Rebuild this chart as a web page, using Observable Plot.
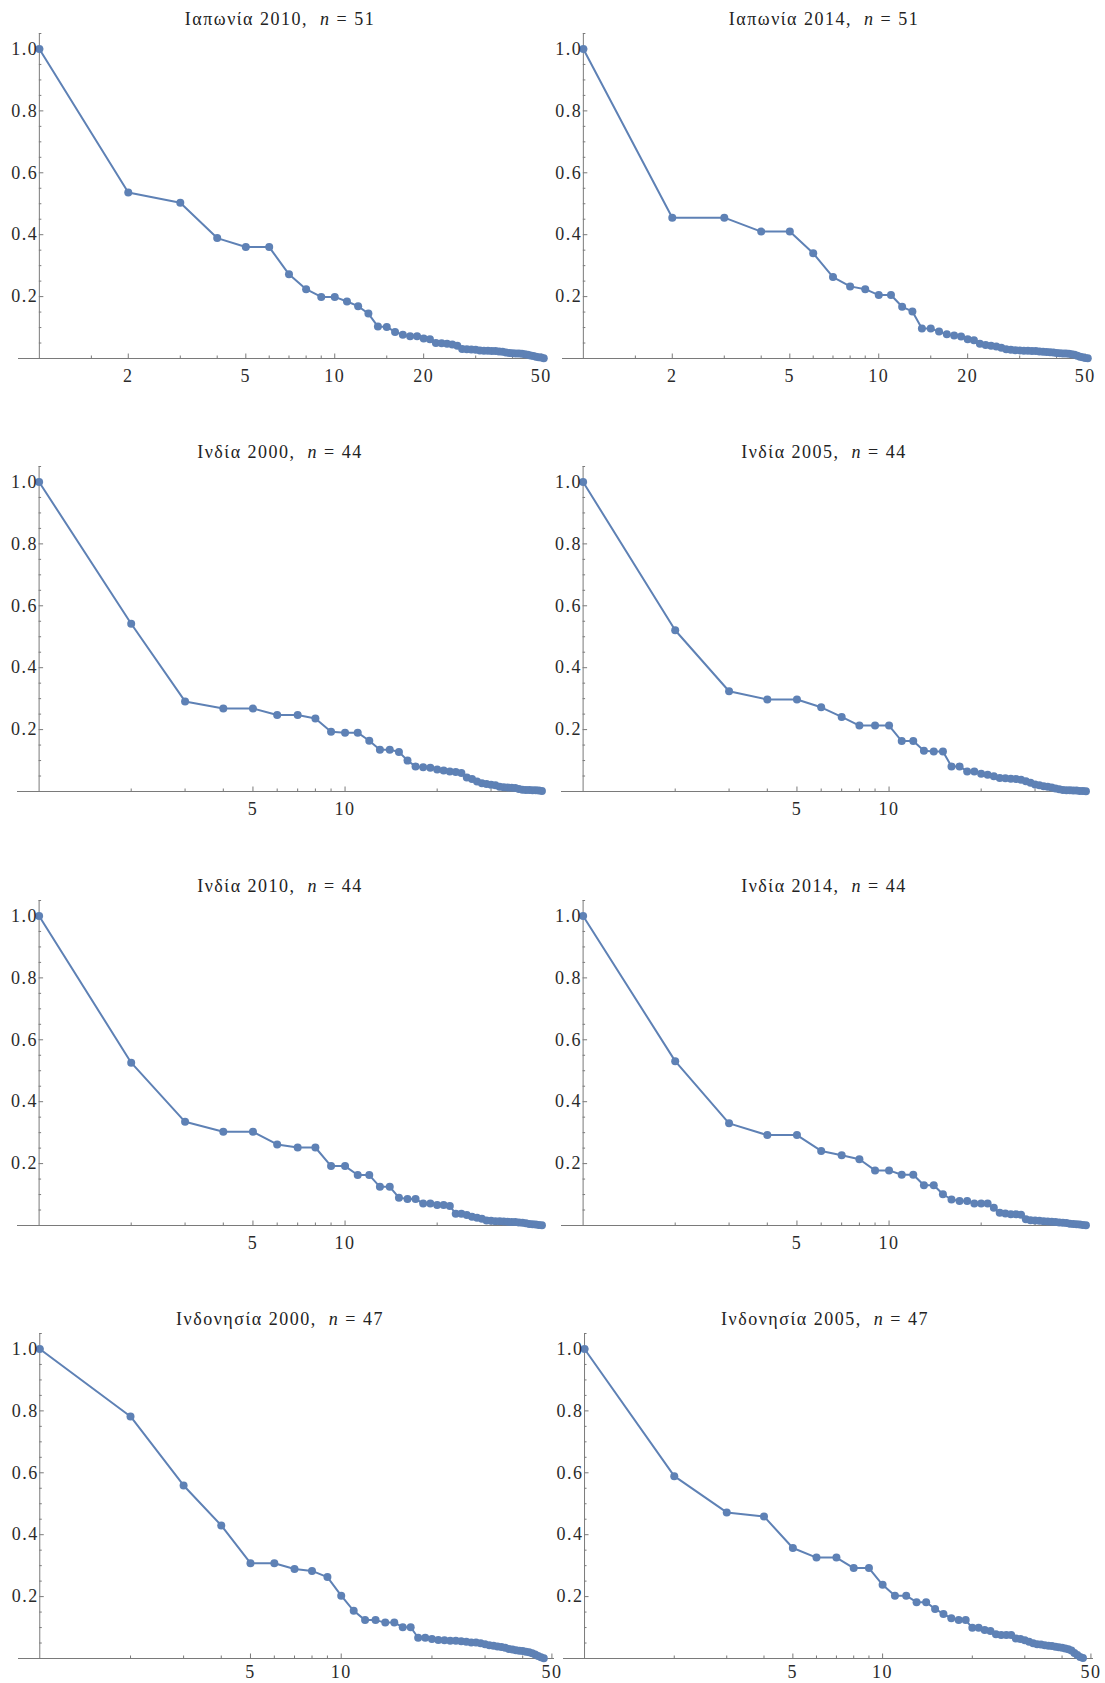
<!DOCTYPE html>
<html><head><meta charset="utf-8">
<script src="https://cdn.jsdelivr.net/npm/d3@7"></script>
<script src="https://cdn.jsdelivr.net/npm/@observablehq/plot@0.6"></script>
<style>
body{margin:0;background:#fff;}
#root{position:relative;width:1105px;height:1683px;overflow:hidden;font-family:"Liberation Serif","Times New Roman",serif;}
.panel{position:absolute;}
.panel text{font-family:"Liberation Serif","Times New Roman",serif;letter-spacing:1.5px;}
.title{position:absolute;width:560px;text-align:center;font-size:18px;line-height:22px;color:#222;white-space:pre;letter-spacing:1.5px;}
</style></head><body><div id="root"></div>
<script>
// ---- data ----
const countries = ["Ιαπωνία","Ιαπωνία","Ινδία","Ινδία","Ινδία","Ινδία","Ινδονησία","Ινδονησία"];
const years = [2010, 2014, 2000, 2005, 2010, 2014, 2000, 2005];

const japan2010 = [1.0,0.536,0.503,0.389,0.360,0.360,0.272,0.224,0.199,0.199,0.184,0.169,0.145,0.103,0.102,0.086,0.077,0.072,0.072,0.065,0.062,0.050,0.049,0.048,0.045,0.041,0.031,0.030,0.029,0.028,0.026,0.025,0.025,0.024,0.024,0.023,0.022,0.019,0.018,0.017,0.016,0.016,0.015,0.014,0.012,0.010,0.008,0.006,0.004,0.003,0.001];
const japan2014 = [1.0,0.455,0.455,0.410,0.410,0.340,0.263,0.233,0.224,0.205,0.205,0.167,0.152,0.097,0.097,0.087,0.078,0.074,0.071,0.062,0.059,0.048,0.044,0.041,0.039,0.035,0.030,0.028,0.027,0.026,0.025,0.025,0.024,0.024,0.023,0.022,0.021,0.020,0.019,0.018,0.017,0.016,0.016,0.015,0.014,0.012,0.009,0.006,0.004,0.002,0.001];
const india2000 = [1.0,0.542,0.291,0.268,0.268,0.247,0.247,0.236,0.193,0.190,0.190,0.164,0.135,0.135,0.128,0.100,0.081,0.078,0.077,0.071,0.068,0.065,0.063,0.060,0.045,0.040,0.032,0.027,0.024,0.022,0.020,0.015,0.014,0.013,0.012,0.011,0.008,0.006,0.005,0.005,0.004,0.004,0.003,0.002];
const india2005 = [1.0,0.521,0.324,0.297,0.297,0.272,0.241,0.213,0.213,0.213,0.163,0.163,0.132,0.129,0.129,0.081,0.081,0.065,0.065,0.057,0.054,0.049,0.044,0.043,0.041,0.040,0.038,0.033,0.028,0.023,0.020,0.017,0.015,0.013,0.010,0.007,0.005,0.004,0.004,0.003,0.003,0.002,0.002,0.001];
const india2010 = [1.0,0.526,0.335,0.303,0.303,0.262,0.252,0.252,0.192,0.192,0.163,0.163,0.125,0.125,0.090,0.086,0.086,0.071,0.071,0.066,0.066,0.063,0.038,0.038,0.034,0.028,0.025,0.022,0.016,0.015,0.014,0.014,0.013,0.012,0.011,0.011,0.010,0.009,0.007,0.005,0.004,0.003,0.002,0.001];
const india2014 = [1.0,0.531,0.330,0.292,0.292,0.241,0.227,0.214,0.178,0.178,0.164,0.164,0.130,0.130,0.101,0.084,0.079,0.079,0.071,0.071,0.071,0.057,0.041,0.039,0.036,0.036,0.035,0.020,0.017,0.016,0.015,0.014,0.013,0.012,0.011,0.010,0.009,0.008,0.006,0.005,0.004,0.003,0.002,0.001];
const indonesia2000 = [1.0,0.782,0.559,0.430,0.308,0.308,0.289,0.283,0.263,0.203,0.154,0.124,0.124,0.116,0.116,0.101,0.101,0.067,0.067,0.063,0.060,0.059,0.057,0.057,0.056,0.054,0.052,0.052,0.049,0.046,0.043,0.041,0.039,0.037,0.035,0.031,0.029,0.027,0.025,0.024,0.022,0.020,0.017,0.013,0.008,0.004,0.001];
const indonesia2005 = [1.0,0.589,0.472,0.459,0.357,0.326,0.326,0.292,0.292,0.238,0.203,0.203,0.182,0.182,0.160,0.144,0.130,0.124,0.124,0.099,0.099,0.092,0.089,0.078,0.076,0.076,0.076,0.065,0.063,0.059,0.054,0.049,0.046,0.045,0.043,0.041,0.040,0.038,0.036,0.035,0.032,0.030,0.026,0.018,0.011,0.005,0.002];

const japanTickLabels = [2, 5, 10, 20, 50];
const japanMinorTicks = [1.5, 3, 4, 6, 7, 8, 9, 15, 30, 40];
const indiaTickLabels = [5, 10];
const indiaMinorTicks = [2, 3, 4, 6, 7, 8, 9, 20, 30, 40];
const indonesiaTickLabels = [5, 10, 50];
const indonesiaMinorTicks = [2, 3, 4, 6, 7, 8, 9, 20, 30, 40];
const yTickLabels = [0.2, 0.4, 0.6, 0.8, 1.0];
const yMinorTicks = [0.05,0.1,0.15,0.25,0.3,0.35,0.45,0.5,0.55,0.65,0.7,0.75,0.85,0.9,0.95,1.05];

// ---- layout ----
const series = [japan2010, japan2014, india2000, india2005, india2010, india2014, indonesia2000, indonesia2005];
const tickLabelSets = [japanTickLabels, japanTickLabels, indiaTickLabels, indiaTickLabels, indiaTickLabels, indiaTickLabels, indonesiaTickLabels, indonesiaTickLabels];
const minorSets = [japanMinorTicks, japanMinorTicks, indiaMinorTicks, indiaMinorTicks, indiaMinorTicks, indiaMinorTicks, indonesiaMinorTicks, indonesiaMinorTicks];
const xMaxes = [52.1, 52.1, 45.2, 45.2, 45.2, 45.2, 51, 51];
const plotWidths = [528, 528, 528, 528, 528, 528, 536, 530];
const axisXs = [39, 583, 39, 583, 39, 583, 39, 584];
const rowY1 = [48.3, 481, 915, 1348];
const labelOffsets = [17.5, 17.5, 17.5, 14];

const color = "#5E81B5";
const axisColor = "#7a7a7a";
const labelColor = "#2a2a2a";
const xMin = 0.85;
const yTop = 1.05;
const mL = 14, mR = 16, mT = 4, mB = 24, plotH = 325;
const pxPerY = plotH / yTop;

const root = document.getElementById("root");

series.forEach((values, i) => {
  const row = Math.floor(i / 2);
  const W = plotWidths[i];
  const xMax = xMaxes[i];
  const k = W / (Math.log(xMax) - Math.log(xMin));
  const axisX = axisXs[i];
  const y1 = rowY1[row];
  const svgLeft = axisX - k * (-Math.log(xMin)) - mL;
  const svgTop = y1 - (mT + pxPerY * (yTop - 1));
  const data = values.map((v, j) => ({rank: j + 1, v}));
  const labels = tickLabelSets[i];
  const minors = minorSets[i];
  const majY = 4.5 / pxPerY, minY = 2.5 / pxPerY;
  const majX = Math.exp(4.5 / k), minX = Math.exp(2.5 / k);

  const chart = Plot.plot({
    width: mL + W + mR,
    height: mT + plotH + mB,
    marginLeft: mL, marginRight: mR, marginTop: mT, marginBottom: mB,
    x: {type: "log", domain: [xMin, xMax], axis: null},
    y: {domain: [0, yTop], axis: null},
    style: {fontFamily: '"Liberation Serif", "Times New Roman", serif', fontSize: "18px", background: "transparent", overflow: "visible"},
    marks: [
      Plot.ruleY([0], {stroke: axisColor, strokeWidth: 1}),
      Plot.ruleX([1], {stroke: axisColor, strokeWidth: 1}),
      Plot.ruleY(yMinorTicks, {y: d => d, x1: 1, x2: minX, stroke: axisColor}),
      Plot.ruleY(yTickLabels, {y: d => d, x1: 1, x2: majX, stroke: axisColor}),
      Plot.ruleX(minors, {x: d => d, y1: 0, y2: minY, stroke: axisColor}),
      Plot.ruleX(labels, {x: d => d, y1: 0, y2: majY, stroke: axisColor}),
      Plot.line(data, {x: "rank", y: "v", stroke: color, strokeWidth: 2}),
      Plot.dot(data, {x: "rank", y: "v", r: 4, fill: color, stroke: "none"}),
      Plot.text(yTickLabels, {x: () => 1, y: d => d, text: d => d.toFixed(1), textAnchor: "end", dx: -1, fill: labelColor, fontSize: 18}),
      Plot.text(labels, {x: d => d, y: () => 0, text: d => String(d), dy: labelOffsets[row], lineAnchor: "middle", fill: labelColor, fontSize: 18})
    ]
  });
  chart.classList.add("panel");
  chart.style.left = svgLeft + "px";
  chart.style.top = svgTop + "px";
  root.appendChild(chart);

  const t = document.createElement("div");
  t.className = "title";
  t.style.left = (axisX - 39) + "px";
  t.style.top = (y1 - 29 - 11) + "px";
  t.innerHTML = `${countries[i]} ${years[i]},&nbsp; <i>n</i> = ${values.length}`;
  root.appendChild(t);
});
</script>
</body></html>
